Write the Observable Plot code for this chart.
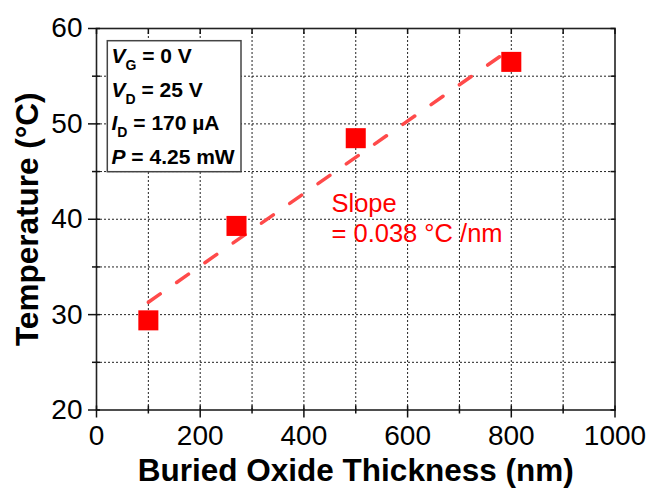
<!DOCTYPE html>
<html>
<head>
<meta charset="utf-8">
<script src="https://cdn.jsdelivr.net/npm/d3@7"></script>
<script src="https://cdn.jsdelivr.net/npm/@observablehq/plot@0.6"></script>
<style>
  html, body { margin: 0; padding: 0; background: #fff; }
  #chart { width: 654px; height: 490px; }
</style>
</head>
<body>
<div id="chart"></div>
<script>
// Measured device temperature versus buried oxide thickness
const thickness = [100, 270, 500, 800];        // nm
const temperature = [29.4, 39.3, 48.5, 56.5];  // °C

// Linear fit through the measurements
const slope = 0.038;          // °C per nm
const fitIntercept = 27.5;    // °C at 0 nm
const fitRange = [100, 800];  // nm

// Axis ticks
const xMajor = [0, 200, 400, 600, 800, 1000];
const xMinor = [100, 300, 500, 700, 900];
const yMajor = [20, 30, 40, 50, 60];
const yMinor = [25, 35, 45, 55];

// Bias conditions shown in the inset box
const condSymbol = ["V", "V", "I", "P"];
const condSub = ["G", "D", "D", ""];
const condValue = [" = 0 V", " = 25 V", " = 170 µA", " = 4.25 mW"];

const xTitle = "Buried Oxide Thickness (nm)";
const yTitle = "Temperature (°C)";

const points = thickness.map((x, i) => ({x, y: temperature[i]}));
const fit = fitRange.map(x => ({x, y: fitIntercept + slope * x}));

const font = "'Liberation Sans', Arial, Helvetica, sans-serif";
const gridOpts = {stroke: "#222", strokeOpacity: 1, strokeWidth: 1, strokeDasharray: "2,2"};
const tickOnly = {fill: "none", label: null, stroke: "#111", strokeWidth: 1.5};

const plot = Plot.plot({
  width: 654,
  height: 490,
  marginLeft: 96,
  marginRight: 39.5,
  marginTop: 28,
  marginBottom: 80.5,
  style: {fontFamily: font, background: "#fff", color: "#000"},
  x: {domain: [0, 1000]},
  y: {domain: [20, 60]},
  marks: [
    Plot.gridX(xMinor.concat(xMajor.slice(1, -1)), gridOpts),
    Plot.gridY(yMinor.concat(yMajor.slice(1, -1)), gridOpts),
    Plot.line(fit, {x: "x", y: "y", stroke: "#ff4a4a", strokeWidth: 3.5, strokeDasharray: "14.5,20"}),
    Plot.dot(points, {x: "x", y: "y", symbol: "square", r: 11.3, fill: "#ff0000", stroke: "none"}),
    Plot.frame({stroke: "#222", strokeWidth: 1.6}),
    // ticks crossing the bottom and left axes
    Plot.axisX(xMajor, {anchor: "bottom", tickSize: 12, dy: -4, ...tickOnly}),
    Plot.axisX(xMinor, {anchor: "bottom", tickSize: 8, dy: -4, ...tickOnly}),
    Plot.axisY(yMajor, {anchor: "left", tickSize: 12, dx: 4, ...tickOnly}),
    Plot.axisY(yMinor, {anchor: "left", tickSize: 8, dx: 4, ...tickOnly}),
    // inward ticks on the top and right edges
    Plot.axisX(xMajor.concat(xMinor), {anchor: "top", tickSize: 5, dy: 5, ...tickOnly}),
    Plot.axisY(yMajor.concat(yMinor), {anchor: "right", tickSize: 5, dx: -5, ...tickOnly}),
    // tick labels
    Plot.axisX(xMajor, {anchor: "bottom", tickSize: 0, tickPadding: 15, fontSize: 28, label: null, tickFormat: d => `${d}`}),
    Plot.axisY(yMajor, {anchor: "left", tickSize: 0, tickPadding: 14, fontSize: 28, label: null, tickFormat: d => `${d}`}),
    // axis titles
    Plot.text([xTitle], {text: d => d, frameAnchor: "bottom", textAnchor: "middle", dy: 49, lineAnchor: "top", fontSize: 31.5, fontWeight: "bold"}),
    Plot.text([yTitle], {text: d => d, frameAnchor: "left", textAnchor: "middle", dx: -81, rotate: -90, lineAnchor: "top", fontSize: 31.5, fontWeight: "bold"})
  ]
});

document.getElementById("chart").appendChild(plot);

const svg = d3.select(plot);

// Inset box with the bias conditions
const box = svg.append("g")
  .attr("font-family", font).attr("font-weight", "bold").attr("font-size", 21)
  .attr("text-anchor", "start");
box.append("rect")
  .attr("x", 107.3).attr("y", 40.7).attr("width", 133.7).attr("height", 131)
  .attr("fill", "#fff").attr("stroke", "#444").attr("stroke-width", 1.5);
condSymbol.forEach((s, i) => {
  const t = box.append("text").attr("x", 111.5).attr("y", 63.3 + 33.4 * i).attr("fill", "#000");
  t.append("tspan").attr("font-style", "italic").text(s);
  if (condSub[i]) {
    t.append("tspan").attr("font-size", 14).attr("dy", 7).text(condSub[i]);
    t.append("tspan").attr("dy", -7).text(condValue[i]);
  } else {
    t.append("tspan").text(condValue[i]);
  }
});

// Slope annotation next to the fit line
const note = svg.append("g")
  .attr("font-family", font).attr("font-size", 25.5).attr("fill", "#ff0000")
  .attr("text-anchor", "start");
note.append("text").attr("x", 331.5).attr("y", 211.7).text("Slope");
note.append("text").attr("x", 331.5).attr("y", 242.3).text(`= ${slope} °C /nm`);
</script>
</body>
</html>
